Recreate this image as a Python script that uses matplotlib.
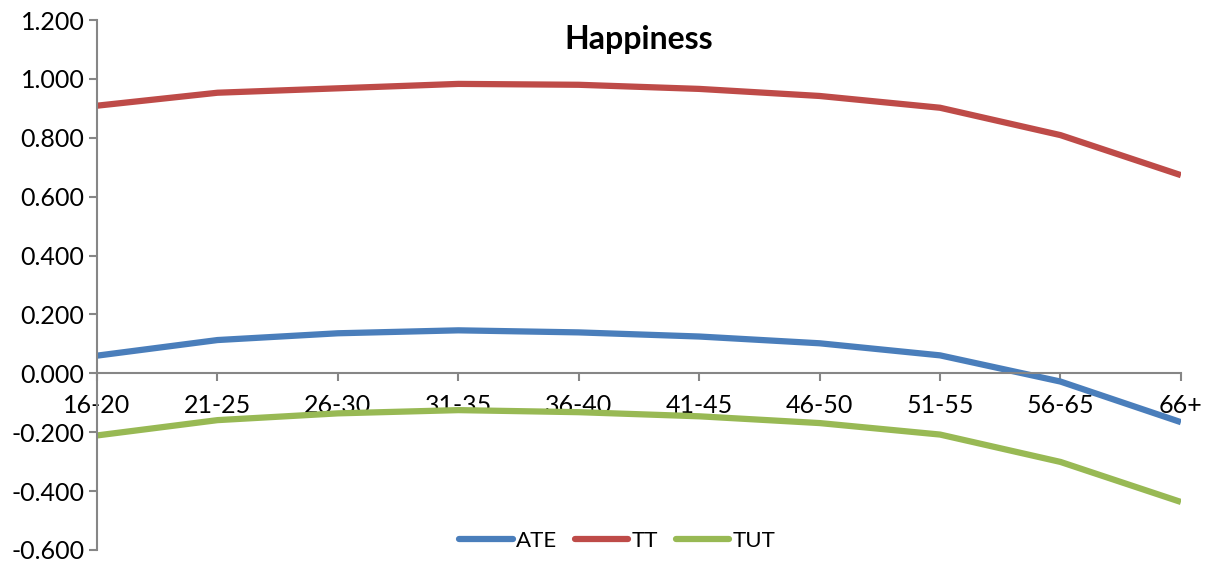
import matplotlib
matplotlib.use("Agg")
import matplotlib.pyplot as plt

plt.rcParams["font.family"] = ["Lato", "DejaVu Sans"]

age_groups = ["16-20", "21-25", "26-30", "31-35", "36-40",
              "41-45", "46-50", "51-55", "56-65", "66+"]
ate = [0.060, 0.113, 0.136, 0.146, 0.139, 0.125, 0.102, 0.061, -0.028, -0.166]
tt = [0.909, 0.953, 0.968, 0.983, 0.980, 0.966, 0.942, 0.902, 0.809, 0.673]
tut = [-0.211, -0.159, -0.136, -0.125, -0.132, -0.146, -0.169, -0.208, -0.301, -0.437]

series = [("ATE", ate, "#4A7EBB"), ("TT", tt, "#BE4B48"), ("TUT", tut, "#98B954")]
axis_grey = "#868686"

fig = plt.figure(figsize=(12.07, 5.62), dpi=100)
ax = fig.add_axes([0.0804, 0.0214, 0.898, 0.943])

x = range(len(age_groups))
for name, vals, col in series:
    ax.plot(x, vals, color=col, lw=4.5, label=name, solid_capstyle="butt")

ax.set_xlim(0, len(age_groups) - 1)
ax.set_ylim(-0.6, 1.2)
ax.set_yticks([-0.6 + 0.2 * i for i in range(10)])
ax.set_yticklabels([f"{-0.6 + 0.2 * i:.3f}" for i in range(10)])
ax.set_xticks(list(x))
ax.set_xticklabels(age_groups)

for side in ("top", "right"):
    ax.spines[side].set_visible(False)
ax.spines["bottom"].set_position(("data", 0))
for side in ("left", "bottom"):
    ax.spines[side].set_color(axis_grey)
    ax.spines[side].set_linewidth(1.5)

ax.tick_params(axis="y", direction="out", length=6, width=1.5, color=axis_grey,
               labelsize=18, pad=3)
ax.tick_params(axis="x", direction="out", length=6, width=1.5, color=axis_grey,
               labelsize=18, pad=9)

ax.set_title("Happiness", fontsize=23, fontweight="bold", y=0.93)

leg = ax.legend(loc="lower center", bbox_to_anchor=(0.48, -0.04), ncol=3,
                frameon=False, fontsize=16, handlelength=2.4, handletextpad=0.15,
                columnspacing=0.8)
for line in leg.get_lines():
    line.set_solid_capstyle("round")

fig.savefig("out.png", dpi=100)
